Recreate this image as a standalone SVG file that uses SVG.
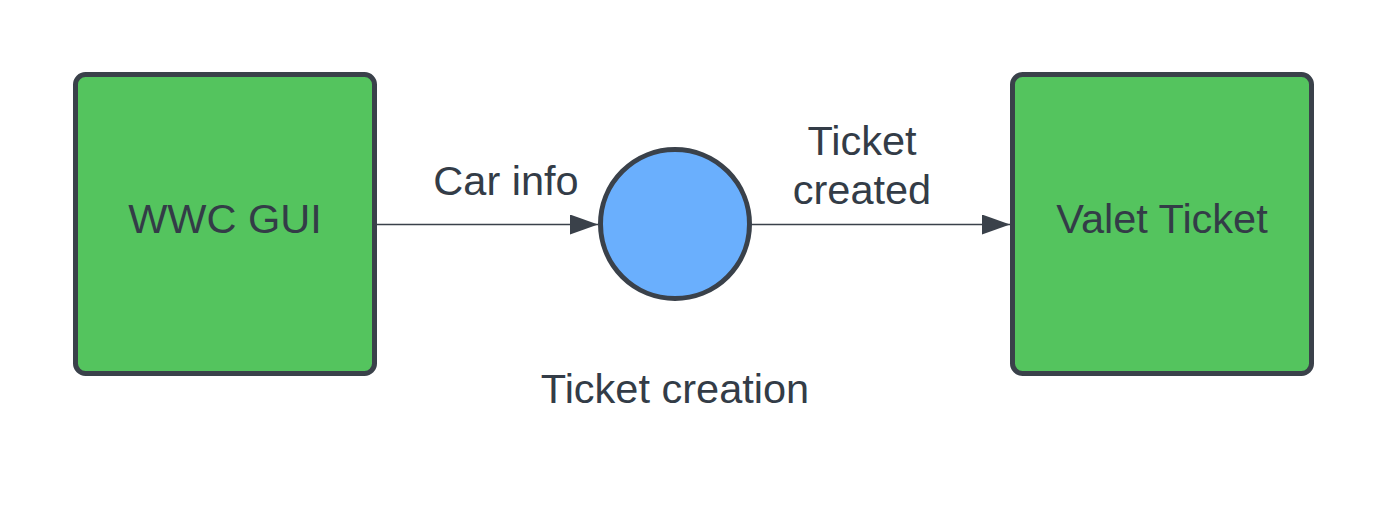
<svg xmlns="http://www.w3.org/2000/svg" width="1388" height="525" viewBox="0 0 1388 525">
<style>
.box{fill:#54c45e;stroke:#3a414a;stroke-width:5}
.proc{fill:#6aaffd;stroke:#3a414a;stroke-width:5}
.conn{stroke:#3a414a;stroke-width:1.3;fill:none}
text{font-family:"Liberation Sans",Arial,sans-serif;fill:#333c47;text-anchor:middle;font-size:41.5px}
</style>
<defs>
<marker id="ah" markerUnits="userSpaceOnUse" markerWidth="30" markerHeight="22" refX="28" refY="10" orient="auto">
<path d="M0,0 L28,10 L0,20 Z" fill="#3a414a"/>
</marker>
</defs>
<rect width="1388" height="525" fill="#ffffff"/>
<g id="connectors">
<line class="conn" x1="377" y1="224.5" x2="598" y2="224.5" marker-end="url(#ah)"/>
<line class="conn" x1="751" y1="224.5" x2="1010" y2="224.5" marker-end="url(#ah)"/>
<text x="506" y="195">Car info</text>
<text x="862" y="155">Ticket</text>
<text x="862" y="204">created</text>
</g>
<g id="wwc-gui">
<rect class="box" x="75.5" y="74.5" width="299" height="299" rx="10"/>
<text x="225" y="233">WWC GUI</text>
</g>
<g id="ticket-creation">
<circle class="proc" cx="675" cy="224" r="74.5"/>
<text x="675" y="403">Ticket creation</text>
</g>
<g id="valet-ticket">
<rect class="box" x="1012.5" y="74.5" width="299" height="299" rx="10"/>
<text x="1162" y="233">Valet Ticket</text>
</g>
</svg>
